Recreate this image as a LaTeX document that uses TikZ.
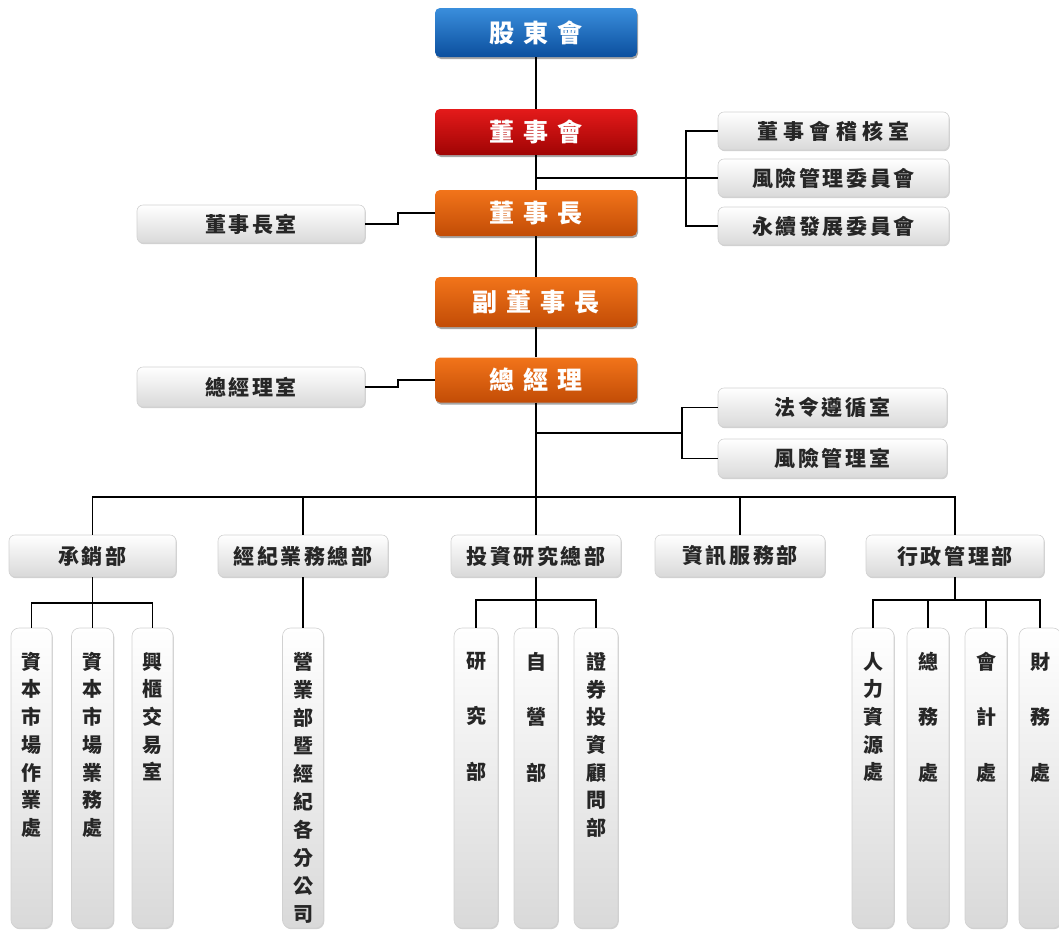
\documentclass[tikz,border=0pt]{standalone}
\usepackage{fontspec}
\newfontfamily\cjk{Noto Sans CJK TC}
\newfontfamily\cjkg{Noto Sans CJK TC}[LetterSpace=12]
\usetikzlibrary{shadows}
\definecolor{blueT}{HTML}{3A8EDC}
\definecolor{blueB}{HTML}{0B4F9E}
\definecolor{redT}{HTML}{E41A1A}
\definecolor{redB}{HTML}{A00404}
\definecolor{orT}{HTML}{F2741A}
\definecolor{orB}{HTML}{C24C06}
\newcommand{\vtxt}[2]{\parbox[c][300pt][t]{40pt}{\centering\fontsize{20}{#1}\selectfont\vspace*{24pt}#2}}
\newcommand{\gapc}{\hspace{9pt}}
\begin{document}
\begin{tikzpicture}[x=1pt,y=-1pt,
  conn/.style={line width=1.8pt, black},
  colbox/.style={rounded corners=5pt, minimum width=202pt, inner sep=0pt, text=white,
    font=\cjk\bfseries\fontsize{25}{25}\selectfont,
    drop shadow={shadow xshift=1pt,shadow yshift=-2pt,opacity=0.35,fill=black}},
  bluebox/.style={colbox, top color=blueT, bottom color=blueB},
  redbox/.style={colbox, top color=redT, bottom color=redB},
  orbox/.style={colbox, top color=orT, bottom color=orB},
  graybox/.style={rounded corners=6pt, draw=black!18, line width=0.6pt, top color=white,
    bottom color=black!15, inner sep=0pt, text=black!85,
    font=\cjkg\bfseries\fontsize{21}{21}\selectfont,
    drop shadow={shadow xshift=0.8pt,shadow yshift=-1.2pt,opacity=0.18,fill=black}},
  vbox/.style={graybox, rounded corners=8pt, minimum height=300pt, font=\cjk\bfseries}]
\useasboundingbox (0,0) rectangle (1059,930);
% top chain
\node[bluebox, minimum height=49pt] (gd) at (536,32.5) {股\gapc 東\gapc 會};
\node[redbox, minimum height=46pt] (ds) at (536,132) {董\gapc 事\gapc 會};
\node[orbox, minimum height=46pt] (dz) at (536,213) {董\gapc 事\gapc 長};
\node[orbox, minimum height=50pt] (vz) at (536,302) {副\gapc 董\gapc 事\gapc 長};
\node[orbox, minimum height=45pt] (gm) at (536,380) {總\gapc 經\gapc 理};
% side offices
\node[graybox, minimum width=228pt, minimum height=38pt] (cs) at (251,224) {董事長室};
\node[graybox, minimum width=228pt, minimum height=40pt] (cg) at (251,387) {總經理室};
\node[graybox, minimum width=231pt, minimum height=38pt, font=\cjkg\bfseries\fontsize{21}{21}\selectfont\addfontfeature{LetterSpace=25}] (a1) at (833.5,131) {董事會稽核室};
\node[graybox, minimum width=231pt, minimum height=38pt] (a2) at (833.5,178) {風險管理委員會};
\node[graybox, minimum width=231pt, minimum height=38pt] (a3) at (833.5,226) {永續發展委員會};
\node[graybox, minimum width=229pt, minimum height=39pt] (c1) at (832.5,407.5) {法令遵循室};
\node[graybox, minimum width=229pt, minimum height=39pt] (c2) at (832.5,458.5) {風險管理室};
% level 2
\node[graybox, minimum width=167pt, minimum height=42pt] (l1) at (92.5,556) {承銷部};
\node[graybox, minimum width=170pt, minimum height=42pt] (l2) at (303,556) {經紀業務總部};
\node[graybox, minimum width=170pt, minimum height=42pt] (l3) at (536,556) {投資研究總部};
\node[graybox, minimum width=170pt, minimum height=42pt] (l4) at (740,556) {資訊服務部};
\node[graybox, minimum width=178pt, minimum height=42pt] (l5) at (955,556) {行政管理部};
% level 3
\node[vbox, minimum width=41pt] (v1) at (31.5,778) {\vtxt{27.7pt}{資\\本\\市\\場\\作\\業\\處}};
\node[vbox, minimum width=42pt] (v2) at (92.5,778) {\vtxt{27.7pt}{資\\本\\市\\場\\業\\務\\處}};
\node[vbox, minimum width=41pt] (v3) at (152.5,778) {\vtxt{27.7pt}{興\\櫃\\交\\易\\室}};
\node[vbox, minimum width=41pt] (v4) at (303,778) {\vtxt{28pt}{營\\業\\部\\暨\\經\\紀\\各\\分\\公\\司}};
\node[vbox, minimum width=44pt] (v5) at (476,778) {\vtxt{55.5pt}{研\\究\\部}};
\node[vbox, minimum width=44pt] (v6) at (536,778) {\vtxt{55.5pt}{自\\營\\部}};
\node[vbox, minimum width=44pt] (v7) at (596,778) {\vtxt{27.7pt}{證\\券\\投\\資\\顧\\問\\部}};
\node[vbox, minimum width=42pt] (v8) at (873,778) {\vtxt{27.7pt}{人\\力\\資\\源\\處}};
\node[vbox, minimum width=42pt] (v9) at (928,778) {\vtxt{55.5pt}{總\\務\\處}};
\node[vbox, minimum width=42pt] (v10) at (986,778) {\vtxt{55.5pt}{會\\計\\處}};
\node[vbox, minimum width=42pt] (v11) at (1040,778) {\vtxt{55.5pt}{財\\務\\處}};
% coordinates
\coordinate (j1) at (536,178); \coordinate (b1) at (686,178);
\coordinate (k1) at (398,224); \coordinate (k2) at (398,387);
\coordinate (j2) at (536,433); \coordinate (b2) at (682,433);
\coordinate (bus) at (536,497);
\coordinate (s1) at (92.5,603); \coordinate (s2) at (536,600); \coordinate (s3) at (955,600);
% connectors
\draw[conn] (gd) -- (ds);
\draw[conn] (ds) -- (dz);
\draw[conn] (dz) -- (vz);
\draw[conn] (vz) -- (gm);
\draw[conn] (gm) -- (l3);
\draw[conn] (j1) -- (a2.west);
\draw[conn] (a1.west) -| (b1) |- (a3.west);
\draw[conn] (cs.east) -- (k1) |- (dz.west);
\draw[conn] (cg.east) -- (k2) |- (gm.west);
\draw[conn] (j2) -- (b2);
\draw[conn] (c1.west) -| (b2) |- (c2.west);
\draw[conn] (l1.north) |- (bus) -| (l5.north);
\draw[conn] (l2.north) -- (l2.north |- bus);
\draw[conn] (l4.north) -- (l4.north |- bus);
\draw[conn] (l1.south) -- (v2.north);
\draw[conn] (v1.north) |- (s1) -| (v3.north);
\draw[conn] (l2.south) -- (v4.north);
\draw[conn] (l3.south) -- (v6.north);
\draw[conn] (v5.north) |- (s2) -| (v7.north);
\draw[conn] (l5.south) -- (s3);
\draw[conn] (v8.north) |- (s3) -| (v11.north);
\draw[conn] (v9.north) -- (v9.north |- s3);
\draw[conn] (v10.north) -- (v10.north |- s3);
\end{tikzpicture}
\end{document}
